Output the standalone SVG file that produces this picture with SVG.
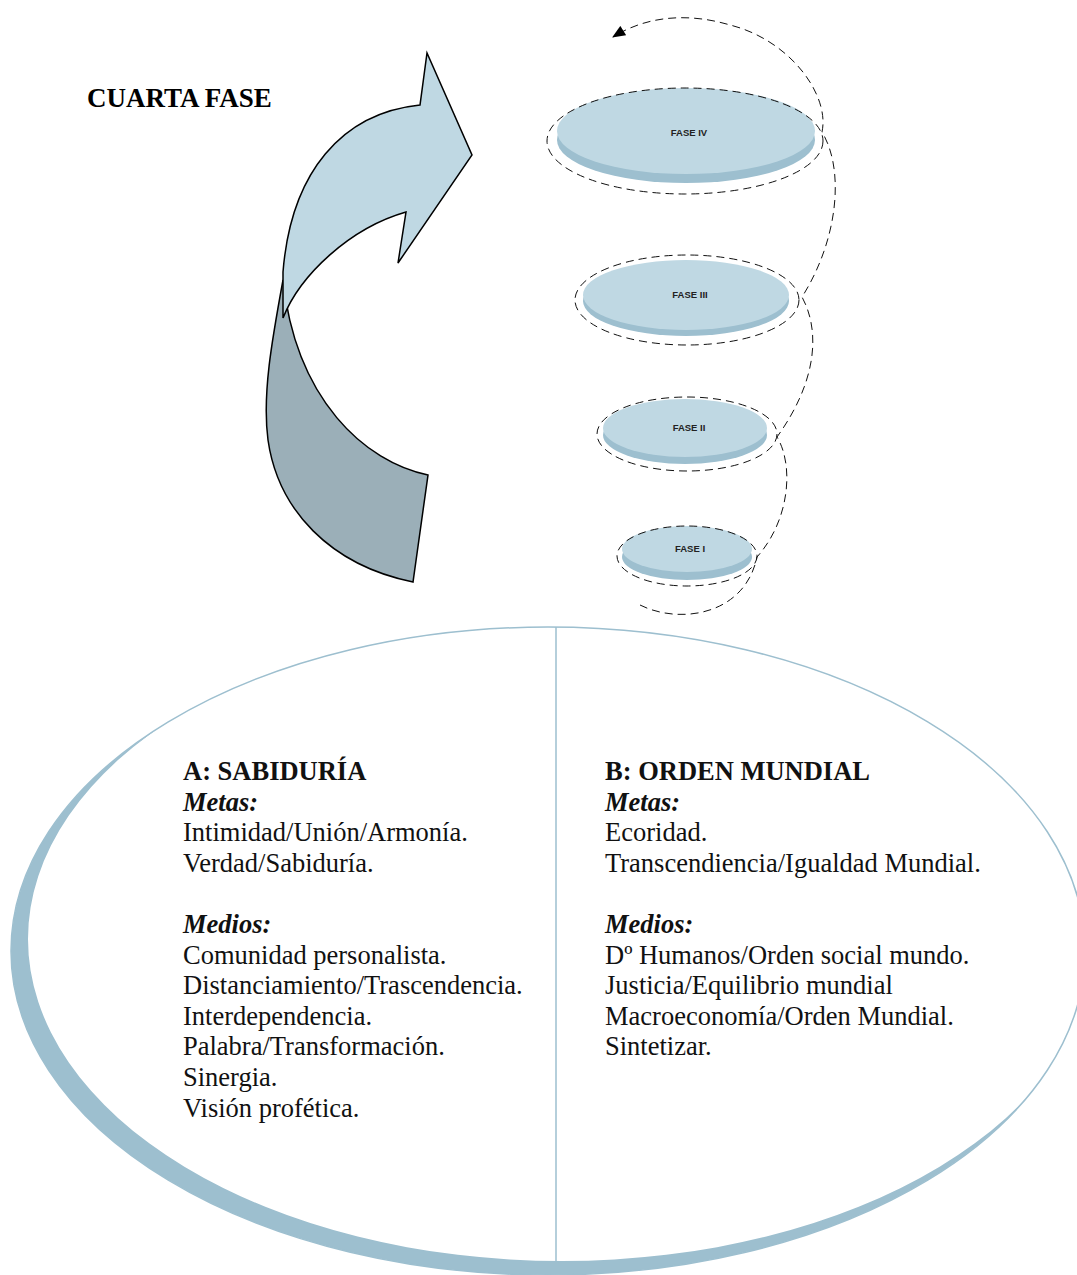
<svg xmlns="http://www.w3.org/2000/svg" width="1077" height="1275" viewBox="0 0 1077 1275">
  <defs>
    <style>
      .title { font-family: "Liberation Serif", "Times New Roman", serif; font-weight: bold; font-size: 27px; fill: #000; }
      .body { font-family: "Liberation Serif", "Times New Roman", serif; font-size: 26.5px; fill: #111; }
      .head { font-weight: bold; }
      .sub { font-weight: bold; font-style: italic; }
      .face { fill: #BFD8E3; }
      .side { fill: #9DBFCF; }
      .ring { fill: none; stroke: #111; stroke-width: 1; stroke-dasharray: 8 5; }
      .lbl { font-family: "Liberation Sans", Arial, sans-serif; font-weight: bold; font-size: 9.5px; fill: #222; text-anchor: middle; }
      .spiral { fill: none; stroke: #111; stroke-width: 1; stroke-dasharray: 8 5; }
      .ribbon { stroke: #000; stroke-width: 1.5; stroke-linejoin: miter; }
    </style>
    <clipPath id="outerClip">
      <ellipse cx="548" cy="951" rx="537" ry="324"/>
    </clipPath>
    <marker id="arrowHead" viewBox="0 0 12 10" refX="11" refY="5" markerWidth="14" markerHeight="11" markerUnits="userSpaceOnUse" orient="auto">
      <path d="M0,0 L12,5 L0,10 Z" fill="#000"/>
    </marker>
  </defs>

  <rect width="1077" height="1275" fill="#fff"/>

  <!-- heading -->
  <text class="title" x="87" y="107">CUARTA FASE</text>

  <!-- twisted curved arrow: back face first, front face over it -->
  <g id="curved-arrow">
    <path class="ribbon" fill="#9BAFB8" d="M283,280 C272,340 262,395 268,440 C278,510 330,565 413,582 L428,475 C365,462 296,400 283,280 Z"/>
    <path class="ribbon" fill="#BFD8E3" d="M283,318 C300,275 350,228 406,212 L398,263 L472,155 L427,53 L420,105 C342,113 291,172 283,272 Z"/>
  </g>

  <!-- phase disks -->
  <g id="fase-iv">
    <ellipse class="side" cx="686" cy="140" rx="129" ry="43"/>
    <ellipse class="face" cx="686" cy="131" rx="129" ry="43"/>
    <ellipse class="ring" cx="685" cy="141" rx="138" ry="53"/>
    <text class="lbl" x="689" y="136">FASE IV</text>
  </g>
  <g id="fase-iii">
    <ellipse class="side" cx="686" cy="301" rx="103" ry="35"/>
    <ellipse class="face" cx="686" cy="295" rx="103" ry="35"/>
    <ellipse class="ring" cx="687" cy="300" rx="112" ry="45"/>
    <text class="lbl" x="690" y="298">FASE III</text>
  </g>
  <g id="fase-ii">
    <ellipse class="side" cx="685" cy="435" rx="82" ry="29"/>
    <ellipse class="face" cx="685" cy="428" rx="82" ry="29"/>
    <ellipse class="ring" cx="687" cy="434" rx="90" ry="37"/>
    <text class="lbl" x="689" y="431">FASE II</text>
  </g>
  <g id="fase-i">
    <ellipse class="side" cx="687" cy="557" rx="65" ry="23"/>
    <ellipse class="face" cx="687" cy="549" rx="65" ry="23"/>
    <ellipse class="ring" cx="687" cy="556" rx="70" ry="30"/>
    <text class="lbl" x="690" y="552">FASE I</text>
  </g>

  <!-- dashed spiral climbing through the phases -->
  <g id="connectors">
    <path class="spiral" marker-end="url(#arrowHead)" d="M640,605 C680,625 745,615 757,557 C790,520 794,465 777,437 C818,380 820,330 802,297 C838,240 845,170 822,132 C830,95 790,40 730,25 C690,13 648,15 613,37"/>
  </g>

  <!-- lower split ellipse -->
  <g id="ellipse-base">
    <ellipse cx="548" cy="951" rx="537" ry="324" fill="#fff"/>
    <path clip-path="url(#outerClip)" fill="#9DBFCF" fill-rule="evenodd"
          d="M11,951 A537,324 0 1,0 1085,951 A537,324 0 1,0 11,951 Z M28,939 A534,322 0 1,0 1096,939 A534,322 0 1,0 28,939 Z"/>
    <ellipse cx="548" cy="951" rx="537" ry="324" fill="none" stroke="#9DBFCF" stroke-width="1.5"/>
    <line x1="556" y1="627" x2="556" y2="1264" stroke="#9DBFCF" stroke-width="1.5"/>
  </g>

  <g id="panel-a">
    <text class="body" x="183" y="780"><tspan class="head">A: SABIDURÍA</tspan></text>
    <text class="body" x="183" y="810.6"><tspan class="sub">Metas:</tspan></text>
    <text class="body" x="183" y="841.2">Intimidad/Unión/Armonía.</text>
    <text class="body" x="183" y="871.8">Verdad/Sabiduría.</text>
    <text class="body" x="183" y="933"><tspan class="sub">Medios:</tspan></text>
    <text class="body" x="183" y="963.6">Comunidad personalista.</text>
    <text class="body" x="183" y="994.2">Distanciamiento/Trascendencia.</text>
    <text class="body" x="183" y="1024.8">Interdependencia.</text>
    <text class="body" x="183" y="1055.4">Palabra/Transformación.</text>
    <text class="body" x="183" y="1086">Sinergia.</text>
    <text class="body" x="183" y="1116.6">Visión profética.</text>
  </g>

  <g id="panel-b">
    <text class="body" x="605" y="780"><tspan class="head">B: ORDEN MUNDIAL</tspan></text>
    <text class="body" x="605" y="810.6"><tspan class="sub">Metas:</tspan></text>
    <text class="body" x="605" y="841.2">Ecoridad.</text>
    <text class="body" x="605" y="871.8">Transcendiencia/Igualdad Mundial.</text>
    <text class="body" x="605" y="933"><tspan class="sub">Medios:</tspan></text>
    <text class="body" x="605" y="963.6">Dº Humanos/Orden social mundo.</text>
    <text class="body" x="605" y="994.2">Justicia/Equilibrio mundial</text>
    <text class="body" x="605" y="1024.8">Macroeconomía/Orden Mundial.</text>
    <text class="body" x="605" y="1055.4">Sintetizar.</text>
  </g>
</svg>
